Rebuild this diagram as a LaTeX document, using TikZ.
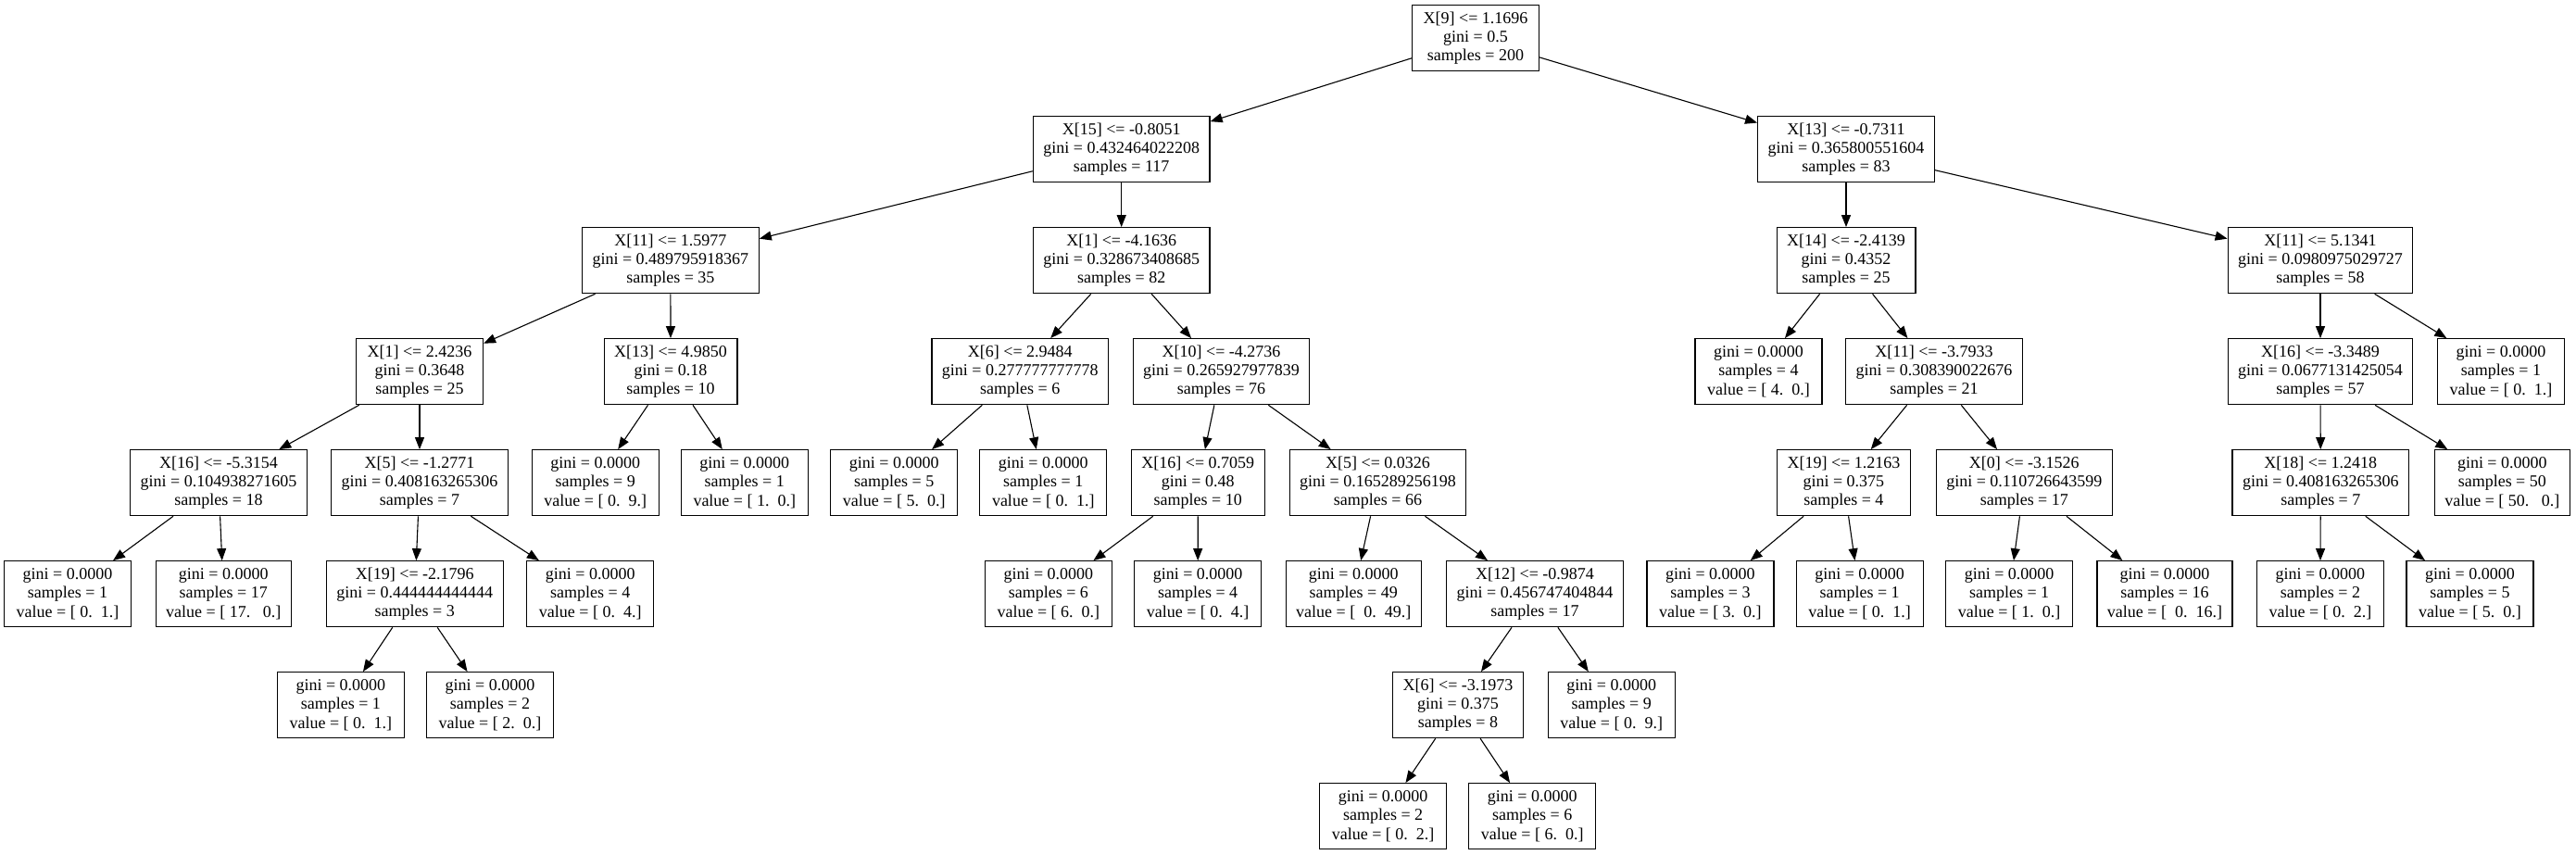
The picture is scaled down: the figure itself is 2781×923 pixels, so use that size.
\documentclass[tikz,border=0pt]{standalone}
\usepackage{fontspec}
\setmainfont{Liberation Serif}
\usetikzlibrary{arrows.meta}
\newcommand\tleaf[2]{gini = 0.0000\\samples = #1\\value = #2}
\begin{document}
\begin{tikzpicture}[x=1pt,y=-1pt,
  tn/.style={draw, line width=1.2pt, rectangle, minimum width=137pt, minimum height=71pt,
    inner xsep=11pt, align=center, font=\fontsize{18}{20.3}\selectfont},
  edge/.style={line width=1.1pt, -{Triangle[length=13pt,width=10pt]}}]
\fill[white] (0,0) rectangle (2781,923);
\useasboundingbox (0,0) rectangle (2781,923);
% level 0
\node[tn] (n0) at (1593,41.2) {X[9] <= 1.1696\\gini = 0.5\\samples = 200};
% level 1
\node[tn] (n1) at (1210.7,161.2) {X[15] <= -0.8051\\gini = 0.432464022208\\samples = 117};
\node[tn] (n2) at (1993,161.2) {X[13] <= -0.7311\\gini = 0.365800551604\\samples = 83};
% level 2
\node[tn] (n3) at (723.9,281.2) {X[11] <= 1.5977\\gini = 0.489795918367\\samples = 35};
\node[tn] (n4) at (1210.7,281.2) {X[1] <= -4.1636\\gini = 0.328673408685\\samples = 82};
\node[tn] (n5) at (1993,281.2) {X[14] <= -2.4139\\gini = 0.4352\\samples = 25};
\node[tn] (n6) at (2505,281.2) {X[11] <= 5.1341\\gini = 0.0980975029727\\samples = 58};
% level 3
\node[tn] (n7) at (453,401.2) {X[1] <= 2.4236\\gini = 0.3648\\samples = 25};
\node[tn] (n8) at (724,401.2) {X[13] <= 4.9850\\gini = 0.18\\samples = 10};
\node[tn] (n9) at (1101.3,401.2) {X[6] <= 2.9484\\gini = 0.277777777778\\samples = 6};
\node[tn] (n10) at (1318.5,401.2) {X[10] <= -4.2736\\gini = 0.265927977839\\samples = 76};
\node[tn] (n11) at (1898.5,401.2) {\tleaf{4}{[\ 4.\ \ 0.]}};
\node[tn] (n12) at (2088,401.2) {X[11] <= -3.7933\\gini = 0.308390022676\\samples = 21};
\node[tn] (n13) at (2505,401.2) {X[16] <= -3.3489\\gini = 0.0677131425054\\samples = 57};
\node[tn] (n14) at (2700,401.2) {\tleaf{1}{[\ 0.\ \ 1.]}};
% level 4
\node[tn] (n15) at (236,521.2) {X[16] <= -5.3154\\gini = 0.104938271605\\samples = 18};
\node[tn] (n16) at (453,521.2) {X[5] <= -1.2771\\gini = 0.408163265306\\samples = 7};
\node[tn] (n17) at (642.7,521.2) {\tleaf{9}{[\ 0.\ \ 9.]}};
\node[tn] (n18) at (803.8,521.2) {\tleaf{1}{[\ 1.\ \ 0.]}};
\node[tn] (n19) at (965.2,521.2) {\tleaf{5}{[\ 5.\ \ 0.]}};
\node[tn] (n20) at (1126.3,521.2) {\tleaf{1}{[\ 0.\ \ 1.]}};
\node[tn] (n21) at (1293.3,521.2) {X[16] <= 0.7059\\gini = 0.48\\samples = 10};
\node[tn] (n22) at (1487.5,521.2) {X[5] <= 0.0326\\gini = 0.165289256198\\samples = 66};
\node[tn] (n23) at (1990.4,521.2) {X[19] <= 1.2163\\gini = 0.375\\samples = 4};
\node[tn] (n24) at (2185.3,521.2) {X[0] <= -3.1526\\gini = 0.110726643599\\samples = 17};
\node[tn] (n25) at (2505.3,521.2) {X[18] <= 1.2418\\gini = 0.408163265306\\samples = 7};
\node[tn] (n26) at (2701.3,521.2) {\tleaf{50}{[\ 50.\ \ \ 0.]}};
% level 5
\node[tn] (n27) at (73,641.2) {\tleaf{1}{[\ 0.\ \ 1.]}};
\node[tn] (n28) at (241.3,641.2) {\tleaf{17}{[\ 17.\ \ \ 0.]}};
\node[tn] (n29) at (447.8,641.2) {X[19] <= -2.1796\\gini = 0.444444444444\\samples = 3};
\node[tn] (n30) at (637.3,641.2) {\tleaf{4}{[\ 0.\ \ 4.]}};
\node[tn] (n31) at (1131.9,641.2) {\tleaf{6}{[\ 6.\ \ 0.]}};
\node[tn] (n32) at (1293.1,641.2) {\tleaf{4}{[\ 0.\ \ 4.]}};
\node[tn] (n33) at (1461.2,641.2) {\tleaf{49}{[\ \ 0.\ \ 49.]}};
\node[tn] (n34) at (1657,641.2) {X[12] <= -0.9874\\gini = 0.456747404844\\samples = 17};
\node[tn] (n35) at (1846.4,641.2) {\tleaf{3}{[\ 3.\ \ 0.]}};
\node[tn] (n36) at (2007.6,641.2) {\tleaf{1}{[\ 0.\ \ 1.]}};
\node[tn] (n37) at (2169.1,641.2) {\tleaf{1}{[\ 1.\ \ 0.]}};
\node[tn] (n38) at (2337,641.2) {\tleaf{16}{[\ \ 0.\ \ 16.]}};
\node[tn] (n39) at (2504.9,641.2) {\tleaf{2}{[\ 0.\ \ 2.]}};
\node[tn] (n40) at (2666.5,641.2) {\tleaf{5}{[\ 5.\ \ 0.]}};
% level 6
\node[tn] (n41) at (367.9,761.2) {\tleaf{1}{[\ 0.\ \ 1.]}};
\node[tn] (n42) at (529,761.2) {\tleaf{2}{[\ 2.\ \ 0.]}};
\node[tn] (n43) at (1574,761.2) {X[6] <= -3.1973\\gini = 0.375\\samples = 8};
\node[tn] (n44) at (1739.7,761.2) {\tleaf{9}{[\ 0.\ \ 9.]}};
% level 7
\node[tn] (n45) at (1493.1,881.2) {\tleaf{2}{[\ 0.\ \ 2.]}};
\node[tn] (n46) at (1654.2,881.2) {\tleaf{6}{[\ 6.\ \ 0.]}};
% edges
\foreach \a/\b in {n0/n1,n0/n2,n1/n3,n1/n4,n3/n7,n3/n8,n7/n15,n7/n16,
  n15/n27,n15/n28,n16/n29,n16/n30,n29/n41,n29/n42,n8/n17,n8/n18,
  n4/n9,n4/n10,n9/n19,n9/n20,n10/n21,n10/n22,n21/n31,n21/n32,
  n22/n33,n22/n34,n34/n43,n34/n44,n43/n45,n43/n46,
  n2/n5,n2/n6,n5/n11,n5/n12,n12/n23,n12/n24,n23/n35,n23/n36,
  n24/n37,n24/n38,n6/n13,n6/n14,n13/n25,n13/n26,n25/n39,n25/n40}
  \draw[edge] (\a) -- (\b);
\end{tikzpicture}
\end{document}
